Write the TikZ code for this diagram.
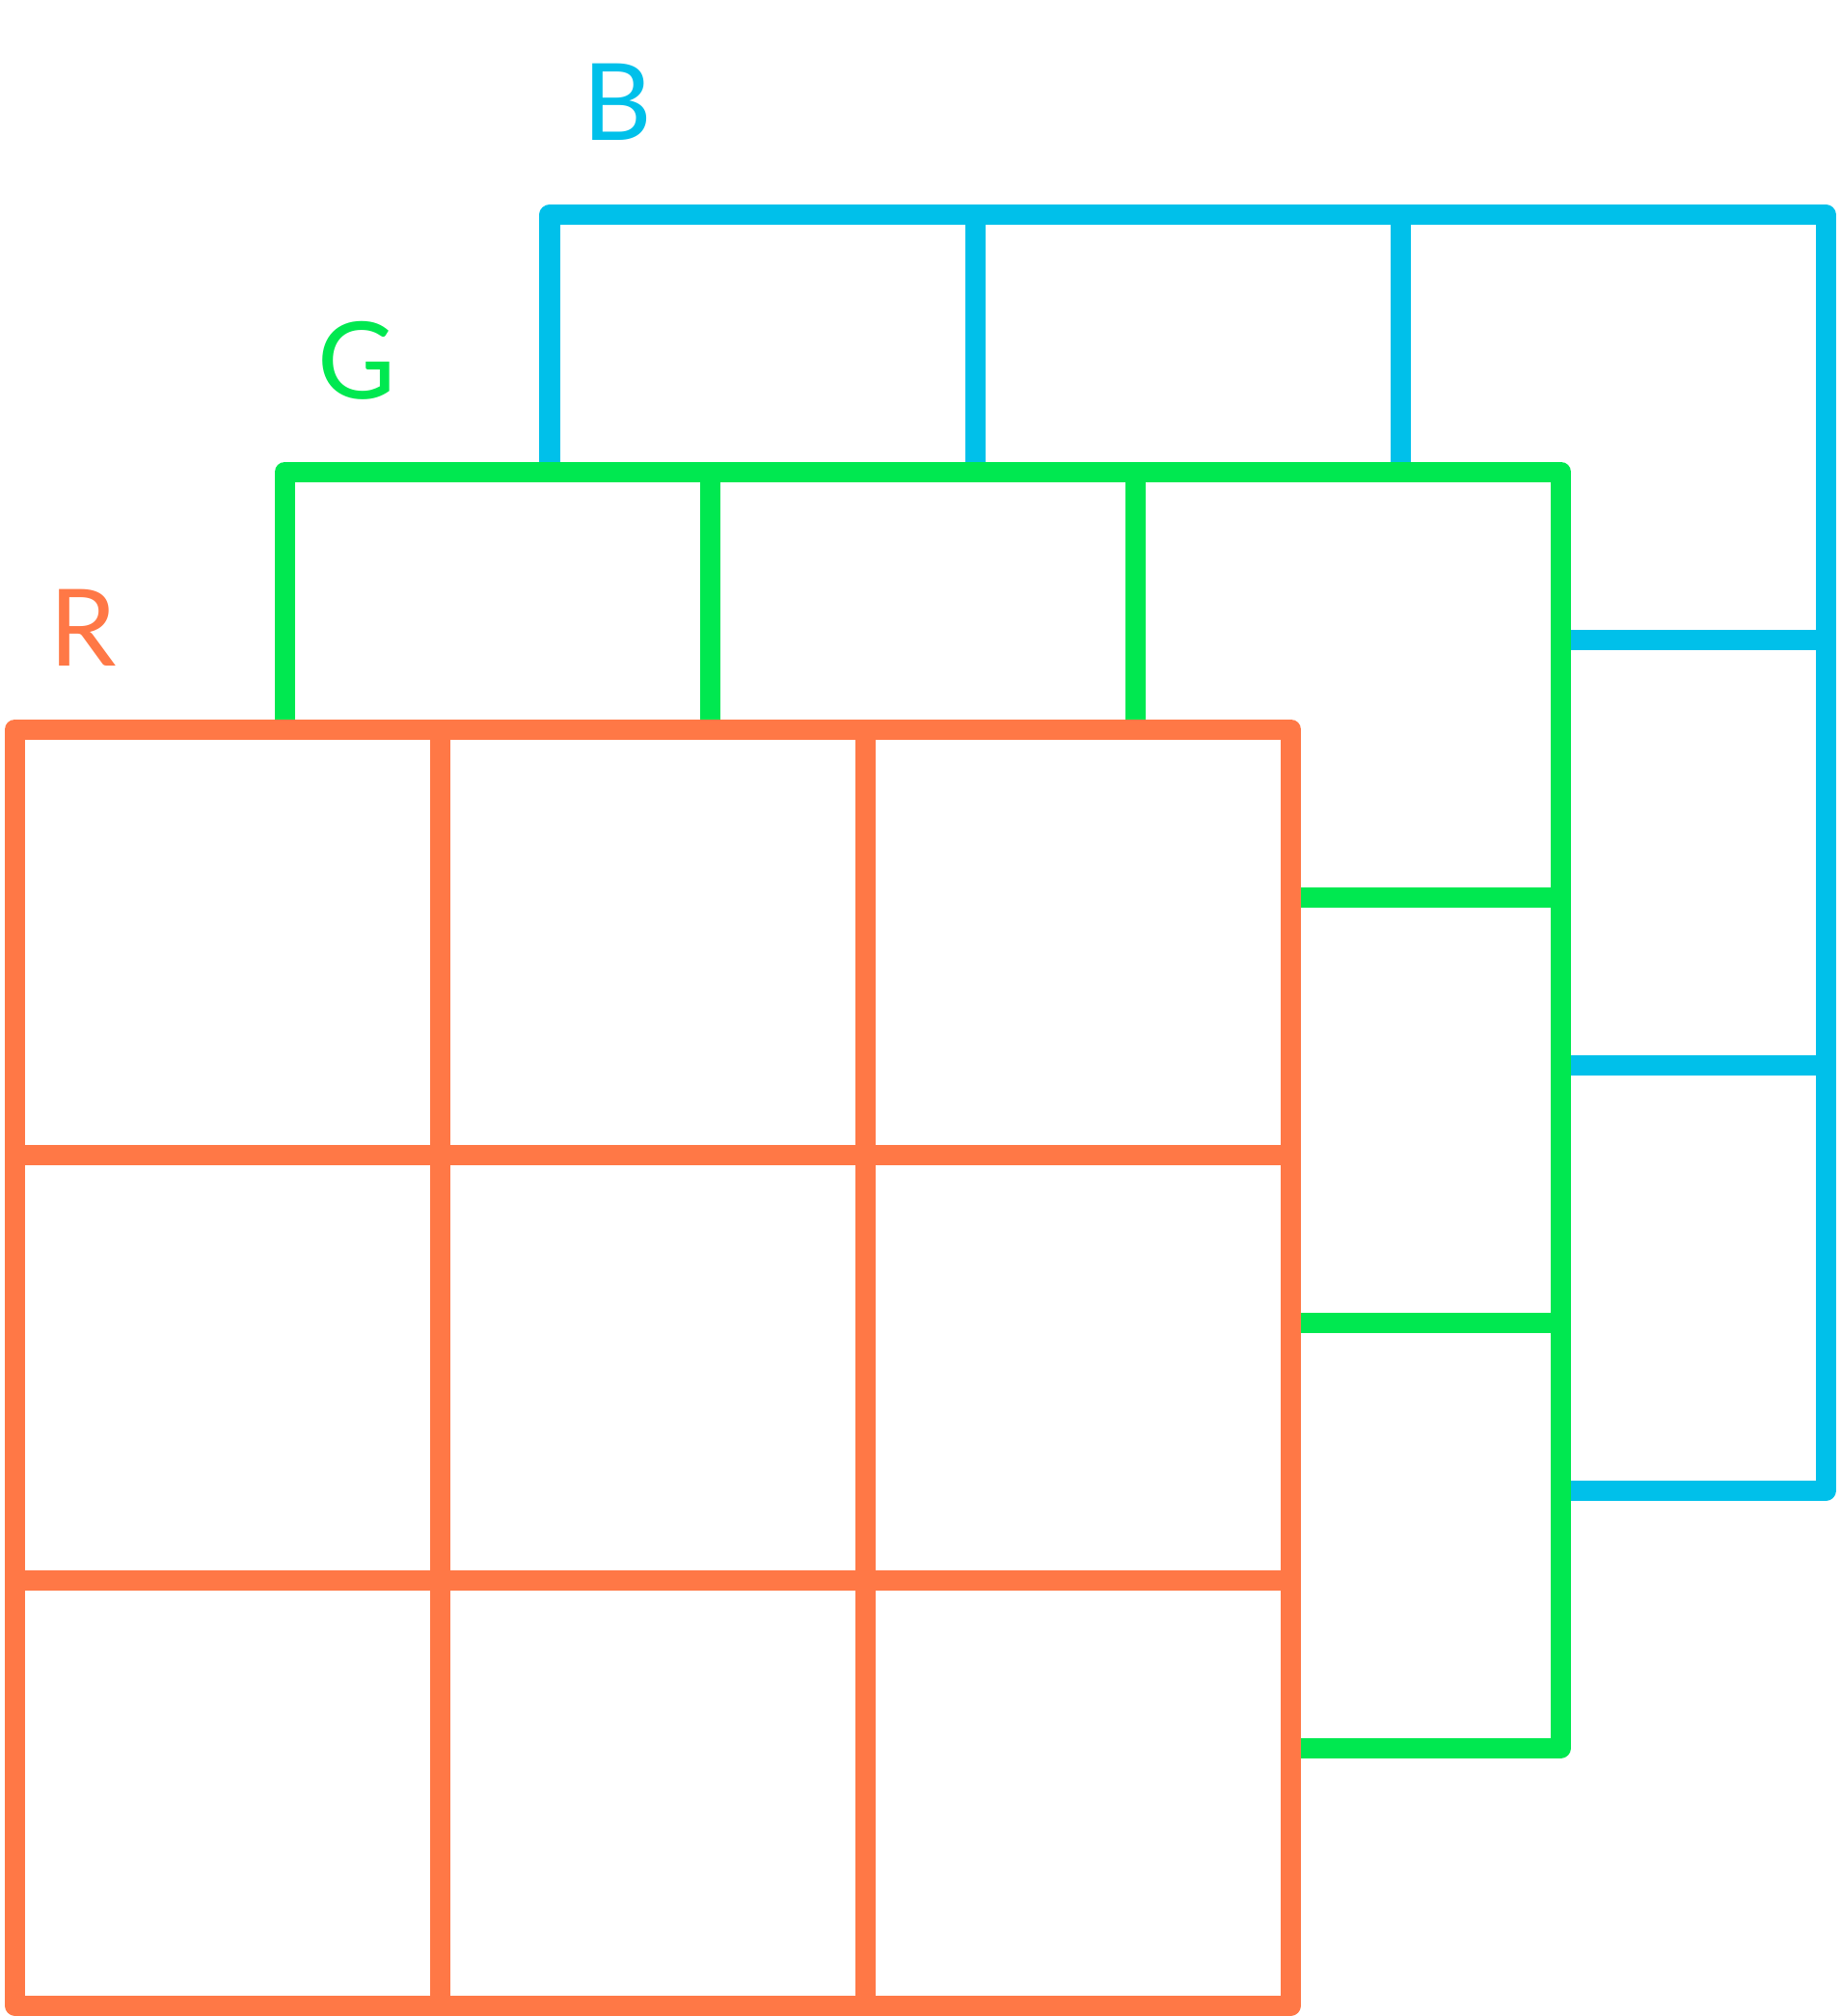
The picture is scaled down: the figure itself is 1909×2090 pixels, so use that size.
\documentclass[tikz,border=0pt]{standalone}
\usepackage{fontspec}
\setmainfont{Lato}
\definecolor{chanR}{HTML}{FF7846}
\definecolor{chanG}{HTML}{00E850}
\definecolor{chanB}{HTML}{00C0EA}
\begin{document}
\begin{tikzpicture}[x=0.01cm,y=-0.01cm]
        \tikzstyle{gridline}=[line width=0.21cm, line join=round]
        \tikzstyle{chanlabel}=[inner sep=0pt, font=\fontsize{31.5}{32}\selectfont]
        \useasboundingbox (0,0) rectangle (1909,2090);
        % back to front: B, G, R
        \foreach \name/\col/\xo/\yo/\lx/\ly in {B/chanB/570/222.5/640.5/106,
                G/chanG/295.5/489/369.5/374, R/chanR/15.5/756/86.5/651} {
            \fill [white] (\xo,\yo) rectangle +(1323,1323);
            \foreach \i in {1,2} {
                \draw [gridline, \col] (\xo+\i*441,\yo) -- +(0,1323);
                \draw [gridline, \col] (\xo,\yo+\i*441) -- +(1323,0);
            }
            \draw [gridline, \col] (\xo,\yo) rectangle +(1323,1323);
            \node [chanlabel, text=\col] (lbl\name) at (\lx,\ly) {\name};
        }
    \end{tikzpicture}
\end{document}
